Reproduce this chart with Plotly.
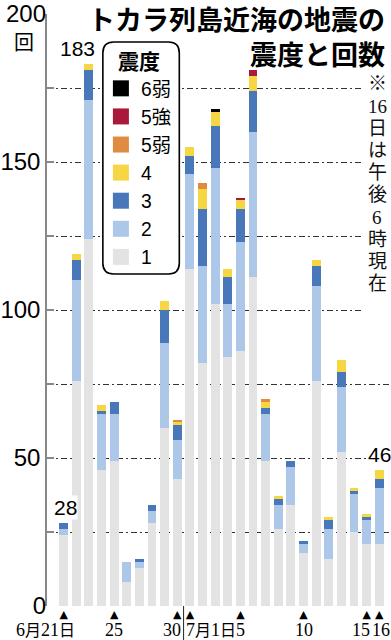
import plotly.graph_objects as go

# ---- data ----
dates = ["6/21", "6/22", "6/23", "6/24", "6/25", "6/26", "6/27", "6/28", "6/29", "6/30",
         "7/1", "7/2", "7/3", "7/4", "7/5", "7/6", "7/7", "7/8", "7/9", "7/10",
         "7/11", "7/12", "7/13", "7/14", "7/15", "7/16"]
int1 = [24, 76, 124, 46, 49, 8, 13, 28, 60, 43, 114, 82, 102, 84, 86, 111, 49, 26, 34, 18, 76, 16, 52, 25, 21, 21]
int2 = [2, 34, 47, 19, 16, 7, 2, 4, 29, 13, 32, 33, 46, 18, 37, 49, 16, 8, 13, 3, 32, 10, 22, 13, 8, 19]
int3 = [2, 7, 10, 1, 4, 0, 1, 2, 11, 5, 6, 19, 14, 9, 11, 14, 2, 2, 2, 1, 7, 3, 5, 1, 1, 3]
int4 = [0, 2, 2, 2, 0, 0, 0, 0, 3, 1, 3, 7, 5, 3, 3, 5, 2, 1, 0, 0, 2, 1, 4, 1, 1, 3]
int5w = [0, 0, 0, 0, 0, 0, 0, 0, 0, 1, 0, 2, 0, 0, 0, 0, 1, 0, 0, 0, 0, 0, 0, 0, 0, 0]
int5s = [0, 0, 0, 0, 0, 0, 0, 0, 0, 0, 0, 0, 0, 0, 1, 2, 0, 0, 0, 0, 0, 0, 0, 0, 0, 0]
int6w = [0, 0, 0, 0, 0, 0, 0, 0, 0, 0, 0, 0, 1, 0, 0, 0, 0, 0, 0, 0, 0, 0, 0, 0, 0, 0]

series_names = ["1", "2", "3", "4", "5弱", "5強", "6弱"]
series_vals = [int1, int2, int3, int4, int5w, int5s, int6w]
series_colors = ["#e3e3e3", "#adc7e8", "#4877ba", "#f7d643", "#e08b42", "#a8193a", "#000000"]

marked_days = ["6/21", "6/25", "6/30", "7/1", "7/5", "7/10", "7/15", "7/16"]
date_labels = ["6月21日", "25", "30", "7月1日", "5", "10", "15", "16"]
callout_days = ["6/21", "6/23", "7/16"]
note_chars = ["※", "16", "日", "は", "午", "後", "6", "時", "現", "在"]

totals = [sum(v) for v in zip(*series_vals)]

# ---- layout helpers ----
W, H = 391, 640
ML, MR, MT, MB = 40, 0, 14, 34
PW, PH = W - ML - MR, H - MT - MB


def xp(px):
    return (px - ML) / PW


def yp(py):
    return (H - MB - py) / PH


def xi(px):
    # pixel -> category-axis position (bar 0 at px 57, step 12.88 px)
    return -1.32 + (px - ML) / PW * 27.25


NUM = "Liberation Sans, Arial, sans-serif"
SERIF = "Liberation Serif, Noto Sans CJK JP, serif"
CJK = "Noto Sans CJK JP, sans-serif"


def cjk_small(s, size):
    out = ""
    for ch in s:
        if ch in "月日":
            out += f"<span style='font-size:{size}px'>{ch}</span>"
        else:
            out += ch
    return out


fig = go.Figure()
for name, vals, col in zip(series_names, series_vals, series_colors):
    fig.add_trace(go.Bar(x=dates, y=vals, name=name, marker_color=col,
                         marker_line_width=0, width=0.7, showlegend=False,
                         legendgroup=name, hoverinfo="x+y+name"))
# legend keys (bigger swatches than the bar default)
for name, col in zip(series_names, series_colors):
    fig.add_trace(go.Scatter(x=[None], y=[None], mode="markers", name=name,
                             legendgroup=name, yaxis="y2",
                             marker=dict(symbol="square", size=16, color=col)))

annotations = []
# title (two lines, right aligned)
annotations.append(dict(text="<b>トカラ列島近海の地震の<br>震度と回数</b>", xref="paper",
                        yref="paper", x=xp(386), y=yp(36.2), xanchor="right",
                        yanchor="middle", align="right", showarrow=False, borderpad=0,
                        font=dict(family=CJK, size=27, color="#000")))
# unit
annotations.append(dict(text="回", xref="paper", yref="paper", x=xp(17), y=yp(41),
                        xanchor="center", yanchor="middle", showarrow=False,
                        font=dict(family=CJK, size=20, color="#000")))
# callouts of totals
callout_shift = {"6/21": 2, "6/23": -11, "7/16": 0}
for d in callout_days:
    i = dates.index(d)
    annotations.append(dict(text=str(totals[i]), x=d, y=totals[i], xref="x", yref="y",
                            xanchor="center", yanchor="bottom", yshift=3,
                            xshift=callout_shift[d], showarrow=False, bgcolor="#fff",
                            borderpad=0,
                            font=dict(family=NUM, size=21, color="#000")))
# date labels under the triangles
label_pos = [(xi(70), "right"), (4, "center"), (xi(178), "right"), (xi(181), "left"),
             (14, "center"), (19, "center"), (xi(370.5), "right"), (xi(371), "left")]
for txt, (px_, anc) in zip(date_labels, label_pos):
    annotations.append(dict(text=cjk_small(txt, 16), x=px_, y=yp(630), xref="x",
                            yref="paper", xanchor=anc, yanchor="middle", showarrow=False,
                            borderpad=0,
                            font=dict(family=SERIF, size=18, color="#000")))
# vertical note
for k, ch in enumerate(note_chars):
    annotations.append(dict(text=ch, xref="paper", yref="paper", x=xp(377),
                            y=yp(84 + 22.2 * k), xanchor="center", yanchor="middle",
                            showarrow=False,
                            font=dict(family=SERIF, size=19, color="#111")))

# rounded legend frame
x0, x1, y0, y1 = xp(97), xp(175), yp(274), yp(42)
rx, ry = 11 / PW, 11 / PH
frame = (f"M{x0 + rx},{y1} L{x1 - rx},{y1} Q{x1},{y1} {x1},{y1 - ry} "
         f"L{x1},{y0 + ry} Q{x1},{y0} {x1 - rx},{y0} L{x0 + rx},{y0} "
         f"Q{x0},{y0} {x0},{y0 + ry} L{x0},{y1 - ry} Q{x0},{y1} {x0 + rx},{y1} Z")

shapes = [
    dict(type="path", path=frame, xref="paper", yref="paper", fillcolor="#fff",
         line=dict(color="#000", width=1.6), layer="above"),
    dict(type="rect", xref="paper", yref="paper", x0=xp(363), x1=xp(391),
         y0=yp(316), y1=yp(73), fillcolor="#fff", line=dict(width=0), layer="above"),
    dict(type="line", xref="x", yref="paper", x0=9.5, x1=9.5, y0=0, y1=yp(640),
         line=dict(color="#222", width=1)),
]

fig.update_layout(
    width=W, height=H, margin=dict(l=ML, r=MR, t=MT, b=MB),
    paper_bgcolor="#fff", plot_bgcolor="#fff", barmode="stack", bargap=0.3,
    showlegend=True,
    legend=dict(x=xp(95), y=yp(42), xanchor="left", yanchor="top",
                bgcolor="rgba(0,0,0,0)", borderwidth=0, traceorder="reversed",
                font=dict(family="Liberation Sans, Noto Sans CJK JP", size=19.3,
                          color="#000"),
                title=dict(text="<b>震度</b>", side="top center",
                           font=dict(family=CJK, size=21, color="#000")),
                itemclick=False, itemdoubleclick=False),
    xaxis=dict(type="category", range=[-1.32, 25.93], showgrid=False, zeroline=False,
               showline=False, ticks="", tickmode="array", tickvals=marked_days,
               ticktext=["▲"] * len(marked_days), tickangle=0,
               tickfont=dict(family="DejaVu Sans", size=11, color="#000"),
               ticklabelstandoff=0),
    yaxis=dict(range=[0, 200], tickmode="array", tickvals=[25, 50, 75, 100, 125, 150, 175],
               ticktext=["", "50", "", "100", "", "150", ""], showgrid=True,
               gridcolor="#333", gridwidth=1, griddash="6px,3px,2px,3px",
               showline=True, linecolor="#888", linewidth=1.5, ticks="inside",
               ticklen=7, tickcolor="#888", tickwidth=1.5, zeroline=False,
               ticklabeloverflow="allow",
               tickfont=dict(family=NUM, size=24, color="#000")),
    yaxis2=dict(range=[0, 200], overlaying="y", side="left", tickmode="array",
                tickvals=[0, 200], ticktext=["0", "200"], showgrid=False,
                zeroline=False, showline=False, ticks="inside", ticklen=7,
                tickcolor="#888", tickwidth=1.5, ticklabeloverflow="allow",
                tickfont=dict(family=NUM, size=24, color="#000")),
    annotations=annotations, shapes=shapes,
)

fig.write_html("out.html")
